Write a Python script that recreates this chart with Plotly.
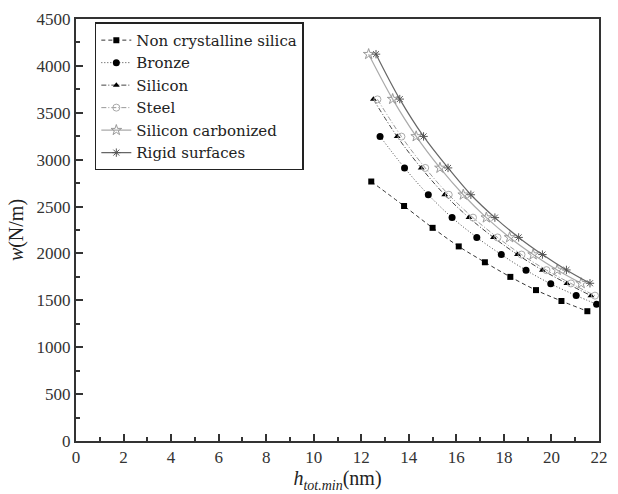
import plotly.graph_objects as go

# ---- data ----
x_silica = [12.42, 13.80, 15.00, 16.10, 17.20, 18.27, 19.35, 20.42, 21.51]
w_silica = [2767, 2506, 2273, 2075, 1906, 1750, 1609, 1493, 1384]

x_bronze = [12.79, 13.82, 14.82, 15.82, 16.86, 17.89, 18.93, 19.97, 21.04, 21.90]
w_bronze = [3248, 2912, 2626, 2382, 2171, 1988, 1821, 1676, 1551, 1458]

x_silicon = [12.51, 13.51, 14.52, 15.51, 16.53, 17.56, 18.57, 19.62, 20.65, 21.66]
w_silicon = [3643, 3246, 2912, 2626, 2382, 2171, 1988, 1822, 1680, 1550]

x_steel = [12.68, 13.69, 14.69, 15.68, 16.70, 17.73, 18.74, 19.79, 20.82, 21.83]
w_steel = [3643, 3246, 2912, 2626, 2382, 2171, 1988, 1822, 1680, 1550]

x_sic = [12.31, 13.32, 14.31, 15.31, 16.29, 17.26, 18.24, 19.23, 20.24, 21.25]
w_sic = [4125, 3646, 3248, 2912, 2626, 2382, 2171, 1988, 1824, 1682]

x_rigid = [12.62, 13.62, 14.62, 15.65, 16.61, 17.62, 18.62, 19.62, 20.63, 21.62]
w_rigid = [4125, 3646, 3248, 2912, 2626, 2382, 2171, 1988, 1824, 1682]

names = ["Non crystalline silica", "Bronze", "Silicon", "Steel",
         "Silicon carbonized", "Rigid surfaces"]

FONT = "Liberation Serif"
LEGEND_FONT = "DejaVu Serif"

fig = go.Figure()

fig.add_trace(go.Scatter(
    x=x_silica, y=w_silica, name=names[0], mode="lines+markers",
    line=dict(color="#333333", width=1, dash="4px,3px", shape="spline"),
    marker=dict(symbol="square", size=6, color="black")))

fig.add_trace(go.Scatter(
    x=x_bronze, y=w_bronze, name=names[1], mode="lines+markers",
    line=dict(color="#444444", width=1, dash="1px,2px", shape="spline"),
    marker=dict(symbol="circle", size=7, color="black")))

fig.add_trace(go.Scatter(
    x=x_silicon, y=w_silicon, name=names[2], mode="lines+markers",
    line=dict(color="#444444", width=1, dash="5px,2px,1px,2px", shape="spline"),
    marker=dict(symbol="triangle-up", size=6, color="black")))

fig.add_trace(go.Scatter(
    x=x_steel, y=w_steel, name=names[3], mode="lines+markers",
    line=dict(color="#999999", width=1, dash="5px,2px,1px,2px", shape="spline"),
    marker=dict(symbol="circle-open", size=7, color="#aaaaaa",
                line=dict(width=1, color="#aaaaaa"))))

fig.add_trace(go.Scatter(
    x=x_sic, y=w_sic, name=names[4], mode="lines+markers",
    line=dict(color="#aaaaaa", width=1.2, shape="spline"),
    marker=dict(symbol="star-open", size=8, color="#999999",
                line=dict(width=1, color="#999999"))))

fig.add_trace(go.Scatter(
    x=x_rigid, y=w_rigid, name=names[5], mode="lines+markers",
    line=dict(color="#666666", width=1.2, shape="spline"),
    marker=dict(symbol="asterisk-open", size=7, color="#555555",
                line=dict(width=1, color="#555555"))))

axis_common = dict(
    showline=True, linecolor="#333333", linewidth=2, mirror=True,
    ticks="inside", ticklen=7, tickwidth=1.5, tickcolor="#333333",
    showgrid=False, zeroline=False,
    tickfont=dict(family=FONT, size=17, color="#333333"),
)

fig.update_xaxes(
    range=[0, 22], dtick=2, tick0=0,
    minor=dict(ticks="inside", ticklen=4, dtick=1, tickcolor="#333333", tickwidth=1.5),
    title=dict(text="<i>h</i><sub><i>tot.min</i></sub>(nm)",
               font=dict(family=FONT, size=20, color="#222222"), standoff=2),
    **axis_common)

fig.update_yaxes(
    range=[0, 4500], dtick=500, tick0=0,
    minor=dict(ticks="inside", ticklen=4, dtick=250, tickcolor="#333333", tickwidth=1.5),
    title=dict(text="<i>w</i>(N/m)",
               font=dict(family=FONT, size=20, color="#222222"), standoff=8),
    **axis_common)

fig.update_layout(
    width=618, height=494,
    margin=dict(l=76, r=10, t=16, b=53),
    paper_bgcolor="white", plot_bgcolor="white",
    font=dict(family=FONT, color="#222222"),
    legend=dict(
        x=0.036, y=0.992, xanchor="left", yanchor="top",
        bgcolor="white", bordercolor="#222222", borderwidth=1.5,
        font=dict(family=LEGEND_FONT, size=15, color="#222222"),
        tracegroupgap=0, itemwidth=30,
    ),
    showlegend=True,
)

fig.write_html("out.html")
